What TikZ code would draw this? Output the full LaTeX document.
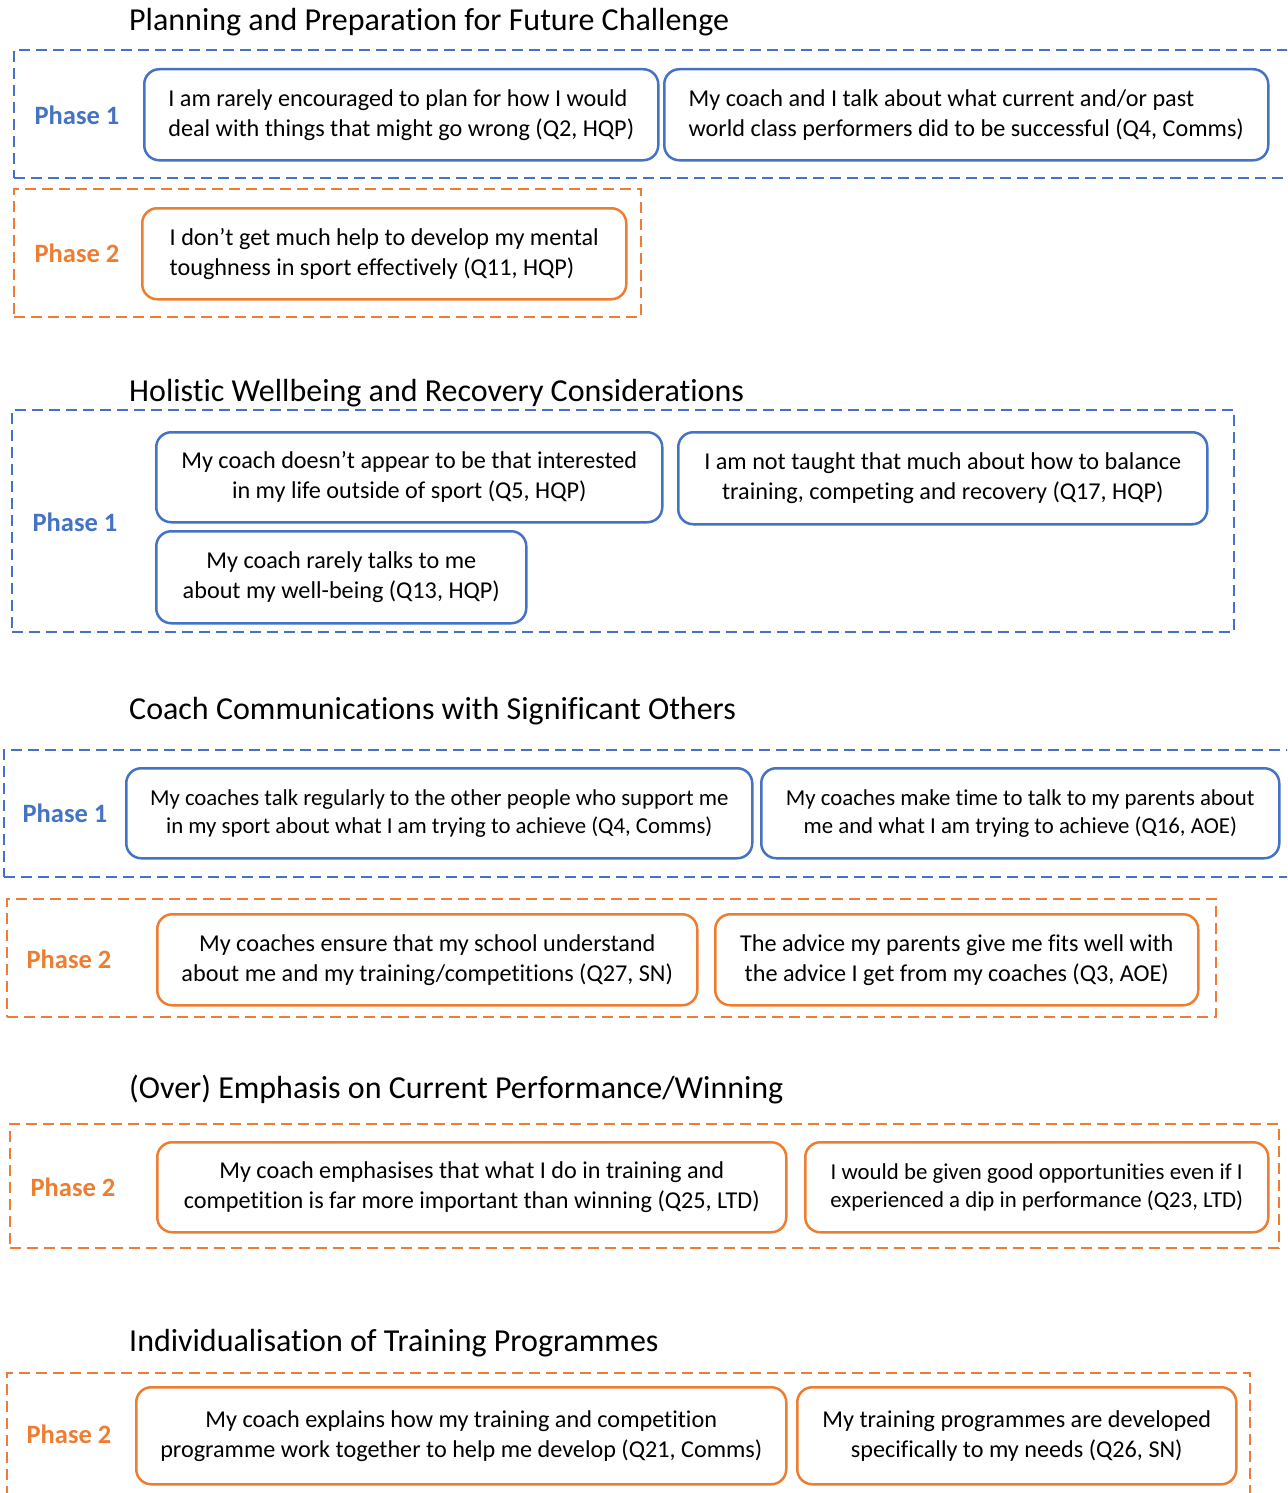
\documentclass[tikz,border=0pt]{standalone}
\usepackage{fontspec}
\setmainfont{Carlito}[Ligatures=NoCommon]
\definecolor{cblue}{HTML}{4472C4}
\definecolor{corange}{HTML}{ED7D31}
\tikzset{
  x=1pt, y=-1pt,
  grp/.style={draw=#1, line width=2.4pt, dash pattern=on 11pt off 6pt,
    anchor=north west, inner sep=0pt},
  qbox/.style={draw=#1, line width=2.5pt, rounded corners=15pt, fill=white,
    anchor=north west, inner sep=0pt, align=center,
    font=\fontsize{24.2}{30}\selectfont},
  lbox/.style={qbox=#1, align=left},
  small/.style={font=\fontsize{22.8}{28}\selectfont},
  phase/.style={text=#1, font=\fontsize{26.5}{30}\bfseries\selectfont},
  sect/.style={anchor=west, inner sep=0pt, font=\fontsize{32}{38}\selectfont},
}
% name, style, colour, x0, y0, x1, y1, text
\newcommand{\qnode}[8]{%
  \node[#2=#3, minimum width=#6pt-#4pt, minimum height=#7pt-#5pt] (#1) at (#4,#5) {#8};}
% name, colour, x0, y0, x1, y1
\newcommand{\grpnode}[6]{%
  \node[grp=#2, minimum width=#5pt-#3pt, minimum height=#6pt-#4pt] (#1) at (#3,#4) {};}
\begin{document}
\begin{tikzpicture}
\useasboundingbox (0,0) rectangle (1287,1493);
\clip (0,0) rectangle (1287,1493);

% --- Planning and Preparation for Future Challenge
\node[sect] (t1) at (129,22) {Planning and Preparation for Future Challenge};
\grpnode{g1a}{cblue}{13}{49}{1300}{177}
\node[phase=cblue] (p1a) at (77,115) {Phase 1};
\qnode{a1}{lbox}{cblue}{143}{68}{657}{159}{I am rarely encouraged to plan for how I would\\deal with things that might go wrong (Q2, HQP)}
\qnode{a2}{lbox}{cblue}{663}{68}{1267}{159}{My coach and I talk about what current and/or past\\world class performers did to be successful (Q4, Comms)}
\grpnode{g1b}{corange}{13}{188}{640}{316}
\node[phase=corange] (p1b) at (77,253) {Phase 2};
\qnode{a3}{lbox}{corange}{141}{207}{625}{298}{I don’t get much help to develop my mental\\toughness in sport effectively (Q11, HQP)}

% --- Holistic Wellbeing and Recovery Considerations
\node[sect] (t2) at (129,393) {Holistic Wellbeing and Recovery Considerations};
\grpnode{g2a}{cblue}{11}{409}{1233}{631}
\node[phase=cblue] (p2a) at (75,522) {Phase 1};
\qnode{b1}{qbox}{cblue}{155}{431}{661}{521}{My coach doesn’t appear to be that interested\\in my life outside of sport (Q5, HQP)}
\qnode{b2}{qbox}{cblue}{677}{431}{1206}{523}{I am not taught that much about how to balance\\training, competing and recovery (Q17, HQP)}
\qnode{b3}{qbox}{cblue}{155}{530}{525}{622}{My coach rarely talks to me\\about my well-being (Q13, HQP)}

% --- Coach Communications with Significant Others
\node[sect] (t3) at (129,711) {Coach Communications with Significant Others};
\grpnode{g3a}{cblue}{3}{749}{1300}{876}
\node[phase=cblue] (p3a) at (65,813) {Phase 1};
\qnode{c1}{qbox}{cblue, small}{125}{767}{751}{857}{My coaches talk regularly to the other people who support me\\in my sport about what I am trying to achieve (Q4, Comms)}
\qnode{c2}{qbox}{cblue, small}{760}{767}{1278}{857}{My coaches make time to talk to my parents about\\me and what I am trying to achieve (Q16, AOE)}
\grpnode{g3b}{corange}{6}{898}{1215}{1016}
\node[phase=corange] (p3b) at (69,959) {Phase 2};
\qnode{c3}{qbox}{corange}{156}{913}{696}{1004}{My coaches ensure that my school understand\\about me and my training/competitions (Q27, SN)}
\qnode{c4}{qbox}{corange}{714}{913}{1197}{1004}{The advice my parents give me fits well with\\the advice I get from my coaches (Q3, AOE)}

% --- (Over) Emphasis on Current Performance/Winning
\node[sect] (t4) at (129,1090) {(Over) Emphasis on Current Performance/Winning};
\grpnode{g4b}{corange}{9}{1123}{1278}{1247}
\node[phase=corange] (p4b) at (73,1187) {Phase 2};
\qnode{d1}{qbox}{corange}{156}{1141}{785}{1231}{My coach emphasises that what I do in training and\\competition is far more important than winning (Q25, LTD)}
\qnode{d2}{qbox}{corange, small}{804}{1141}{1267}{1231}{I would be given good opportunities even if I\\experienced a dip in performance (Q23, LTD)}

% --- Individualisation of Training Programmes
\node[sect] (t5) at (129,1343) {Individualisation of Training Programmes};
\grpnode{g5b}{corange}{6}{1372}{1249}{1510}
\node[phase=corange] (p5b) at (69,1434) {Phase 2};
\qnode{e1}{qbox}{corange}{135}{1386}{785}{1483}{My coach explains how my training and competition\\programme work together to help me develop (Q21, Comms)}
\qnode{e2}{qbox}{corange}{796}{1386}{1235}{1483}{My training programmes are developed\\specifically to my needs (Q26, SN)}
\end{tikzpicture}
\end{document}
